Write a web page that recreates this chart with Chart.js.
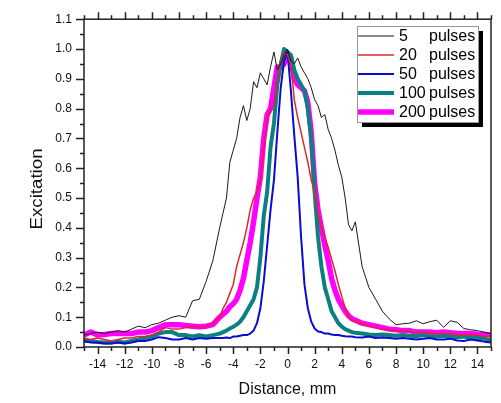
<!DOCTYPE html>
<html lang="en">

<head>
  <meta charset="UTF-8">
  <title>Excitation vs distance</title>
  <script src="https://cdn.jsdelivr.net/npm/chart.js"></script>
  <style>
    body {
      margin: 0;
      padding: 0;
      background: #fff;
    }

    canvas {
      display: block;
    }
  </style>
</head>

<body>
  <canvas id="chart" width="501" height="403"></canvas>
  <script>
    // x positions shared by all curves (mm)
    const distance = [
      -15, -14.5, -14, -13.5, -13, -12.5, -12, -11.5, -11, -10.5, -10, -9.5, -9, -8.5, -8, -7.5, -7, -6.5, -6, -5.5,
      -5, -4.75, -4.5, -4.25, -4, -3.75, -3.5, -3.25, -3, -2.75, -2.5, -2.25, -2, -1.75, -1.5, -1.25, -1, -0.75, -0.5, -0.25,
      0, 0.25, 0.5, 0.75, 1, 1.25, 1.5, 1.75, 2, 2.25, 2.5, 2.75, 3, 3.25, 3.5, 3.75, 4, 4.25, 4.5, 4.75,
      5, 5.5, 6, 6.5, 7, 7.5, 8, 8.5, 9, 9.5, 10, 10.5, 11, 11.5, 12, 12.5, 13, 13.5, 14, 14.5, 15
    ];

    const pulses5 = [
      0.04, 0.045, 0.05, 0.045, 0.05, 0.055, 0.05, 0.06, 0.07, 0.065, 0.075, 0.08, 0.09, 0.1, 0.105, 0.1, 0.155, 0.16, 0.22, 0.29,
      0.40, 0.45, 0.50, 0.62, 0.66, 0.70, 0.77, 0.81, 0.76, 0.80, 0.89, 0.87, 0.92, 0.90, 0.88, 0.94, 0.99, 0.93, 0.95, 0.98,
      1.0, 0.96, 0.95, 0.97, 0.94, 0.92, 0.90, 0.87, 0.83, 0.81, 0.77, 0.78, 0.73, 0.70, 0.66, 0.61, 0.57, 0.50, 0.41, 0.39,
      0.42, 0.27, 0.20, 0.16, 0.12, 0.094, 0.075, 0.078, 0.08, 0.088, 0.078, 0.085, 0.09, 0.066, 0.088, 0.083, 0.062, 0.058, 0.055, 0.05, 0.044
    ];

    const pulses20 = [
      0.03, 0.025, 0.03, 0.025, 0.02, 0.025, 0.03, 0.03, 0.035, 0.035, 0.04, 0.05, 0.065, 0.06, 0.06, 0.065, 0.07, 0.065, 0.07, 0.08,
      0.1, 0.13, 0.15, 0.18, 0.21, 0.27, 0.31, 0.35, 0.4, 0.46, 0.5, 0.52, 0.56, 0.66, 0.76, 0.8, 0.81, 0.88, 0.96, 0.99,
      0.98, 0.95, 0.83, 0.77, 0.72, 0.67, 0.62, 0.56, 0.52, 0.45, 0.4, 0.37, 0.335, 0.295, 0.255, 0.21, 0.17, 0.13, 0.1, 0.09,
      0.085, 0.078, 0.07, 0.065, 0.06, 0.058, 0.055, 0.055, 0.05, 0.05, 0.05, 0.045, 0.045, 0.045, 0.045, 0.04, 0.04, 0.04, 0.04, 0.035, 0.035
    ];

    const pulses50 = [
      0.02, 0.015, 0.015, 0.012, 0.012, 0.015, 0.012, 0.015, 0.02, 0.02, 0.025, 0.033, 0.03, 0.025, 0.025, 0.03, 0.025, 0.03, 0.028, 0.03,
      0.03, 0.03, 0.032, 0.03, 0.035, 0.035, 0.038, 0.04, 0.04, 0.045, 0.055, 0.08, 0.13, 0.22, 0.34, 0.46, 0.56, 0.72, 0.87, 0.96,
      0.99, 0.86, 0.71, 0.57, 0.37, 0.21, 0.13, 0.085, 0.062, 0.052, 0.05, 0.045, 0.045, 0.042, 0.04, 0.04, 0.038, 0.036, 0.035, 0.035,
      0.033, 0.032, 0.035, 0.03, 0.032, 0.03, 0.028, 0.03, 0.028, 0.025, 0.028, 0.03, 0.025, 0.025, 0.028, 0.022, 0.02, 0.025, 0.022, 0.018, 0.015
    ];

    const pulses100 = [
      0.02, 0.02, 0.017, 0.015, 0.015, 0.018, 0.015, 0.02, 0.025, 0.03, 0.035, 0.045, 0.05, 0.05, 0.04, 0.04, 0.035, 0.04, 0.035, 0.04,
      0.045, 0.05, 0.055, 0.062, 0.068, 0.075, 0.085, 0.1, 0.12, 0.14, 0.16, 0.2, 0.3, 0.44, 0.52, 0.67, 0.75, 0.88, 0.95, 1.0,
      0.99, 0.98, 0.93, 0.9, 0.88, 0.86, 0.8, 0.7, 0.52, 0.37, 0.27, 0.2, 0.16, 0.12, 0.1, 0.08, 0.068, 0.06, 0.055, 0.05,
      0.048, 0.045, 0.042, 0.04, 0.042, 0.04, 0.038, 0.04, 0.038, 0.036, 0.04, 0.035, 0.035, 0.038, 0.035, 0.033, 0.035, 0.03, 0.03, 0.028, 0.022
    ];

    const pulses200 = [
      0.04, 0.05, 0.04, 0.042, 0.045, 0.045, 0.045, 0.045, 0.05, 0.05, 0.055, 0.065, 0.075, 0.075, 0.075, 0.072, 0.07, 0.068, 0.07, 0.075,
      0.1, 0.11, 0.12, 0.135, 0.145, 0.16, 0.19, 0.23, 0.29, 0.35, 0.42, 0.5, 0.57, 0.7, 0.78, 0.8, 0.87, 0.94, 0.94, 0.95,
      0.98, 0.97, 0.9, 0.88, 0.87, 0.86, 0.82, 0.72, 0.55, 0.46, 0.4, 0.34, 0.29, 0.23, 0.19, 0.16, 0.14, 0.12, 0.105, 0.095,
      0.09, 0.08, 0.075, 0.07, 0.065, 0.06, 0.058, 0.055, 0.055, 0.05, 0.05, 0.05, 0.048, 0.05, 0.048, 0.045, 0.045, 0.045, 0.043, 0.042, 0.04
    ];

    const seriesNames = ['5', '20', '50', '100', '200'];
    const xTicks = [-14, -12, -10, -8, -6, -4, -2, 0, 2, 4, 6, 8, 10, 12, 14];
    const yTicks = [0, 0.1, 0.2, 0.3, 0.4, 0.5, 0.6, 0.7, 0.8, 0.9, 1.0, 1.1];

    const colors = ['#1a1a1a', '#e02828', '#0a0ad2', '#0a8080', '#ff00ff'];
    const widths = [1, 1.5, 2, 4, 5.5];

    function toPoints(ys) {
      return distance.map((d, i) => ({ x: d, y: ys[i] }));
    }

    Chart.defaults.font.family = 'Arial, "Liberation Sans", sans-serif';
    Chart.defaults.color = '#111';

    // box, minor/major ticks on bottom/top/left, y title and the shadowed legend
    const frame = {
      id: 'frame',
      afterDraw(chart) {
        const { ctx, chartArea: a, scales: { x, y } } = chart;
        ctx.save();
        ctx.strokeStyle = '#222';
        ctx.lineWidth = 1.5;
        ctx.strokeRect(a.left, a.top, a.right - a.left, a.bottom - a.top);
        ctx.beginPath();
        for (let v = -15; v <= 15; v++) {
          const px = Math.round(x.getPixelForValue(v)) + 0.5;
          const len = v % 2 === 0 ? 7 : 4;
          ctx.moveTo(px, a.bottom); ctx.lineTo(px, a.bottom + len);
          ctx.moveTo(px, a.top); ctx.lineTo(px, a.top - len);
        }
        for (let i = 0; i <= 22; i++) {
          const py = Math.round(y.getPixelForValue(i * 0.05)) + 0.5;
          const len = i % 2 === 0 ? 8 : 4;
          ctx.moveTo(a.left, py); ctx.lineTo(a.left - len, py);
        }
        ctx.stroke();

        // y title, a bit stretched along its length like the original
        ctx.save();
        ctx.translate(42, 189);
        ctx.rotate(-Math.PI / 2);
        ctx.scale(1.17, 1);
        ctx.fillStyle = '#111';
        ctx.font = '16px Arial, "Liberation Sans", sans-serif';
        ctx.textAlign = 'center';
        ctx.textBaseline = 'alphabetic';
        ctx.fillText('Excitation', 0, 0);
        ctx.restore();

        // legend
        const bx = 357, by = 26, bw = 121, bh = 96;
        ctx.fillStyle = '#fff';
        ctx.fillRect(bx, by, bw, bh);
        ctx.strokeStyle = '#999';
        ctx.lineWidth = 1;
        ctx.strokeRect(bx + 0.5, by + 0.5, bw, bh);
        ctx.fillStyle = '#000';
        ctx.fillRect(bx + bw + 1, by + 5, 4, bh);
        ctx.fillRect(bx + 5, by + bh + 1, bw, 4);
        ctx.font = '16px Arial, "Liberation Sans", sans-serif';
        ctx.textBaseline = 'middle';
        chart.data.datasets.forEach((ds, i) => {
          const ly = 36 + i * 19;
          ctx.strokeStyle = ds.borderColor;
          ctx.lineWidth = ds.borderWidth;
          ctx.beginPath();
          ctx.moveTo(bx + 1, ly);
          ctx.lineTo(394, ly);
          ctx.stroke();
          ctx.fillStyle = '#000';
          ctx.fillText(seriesNames[i], 399, ly + 1);
          ctx.fillText('pulses', 429, ly + 1);
        });
        ctx.restore();
      }
    };

    new Chart(document.getElementById('chart'), {
      type: 'line',
      data: {
        datasets: seriesNames.map((n, i) => ({
          label: n + ' pulses',
          data: toPoints([pulses5, pulses20, pulses50, pulses100, pulses200][i]),
          borderColor: colors[i],
          borderWidth: widths[i],
          pointRadius: 0,
          tension: 0,
          borderJoinStyle: 'round',
          fill: false,
        }))
      },
      options: {
        responsive: false,
        animation: false,
        devicePixelRatio: 1,
        layout: {
          padding: { left: 0, right: 10, top: 15, bottom: 0 }
        },
        plugins: {
          legend: { display: false },
          tooltip: { enabled: false },
        },
        scales: {
          x: {
            type: 'linear',
            min: -15,
            max: 15,
            afterBuildTicks: (s) => { s.ticks = xTicks.map(v => ({ value: v })); },
            afterFit: (s) => { s.height = 56; },
            grid: { display: false, drawTicks: false },
            border: { display: false },
            ticks: {
              padding: 10,
              maxRotation: 0,
              font: { size: 12 },
              color: '#111',
            },
            title: {
              display: true,
              text: 'Distance, mm',
              font: { size: 16 },
              color: '#111',
              padding: { top: 0, bottom: 4 },
            }
          },
          y: {
            min: 0,
            max: 1.1,
            afterBuildTicks: (s) => { s.ticks = yTicks.map(v => ({ value: v })); },
            afterFit: (s) => { s.width = 84; },
            grid: { display: false, drawTicks: false },
            border: { display: false },
            ticks: {
              padding: 12,
              font: { size: 12 },
              color: '#111',
              callback: (v) => Number(v).toFixed(1),
            },
            title: { display: false }
          }
        }
      },
      plugins: [frame]
    });
  </script>
</body>

</html>
